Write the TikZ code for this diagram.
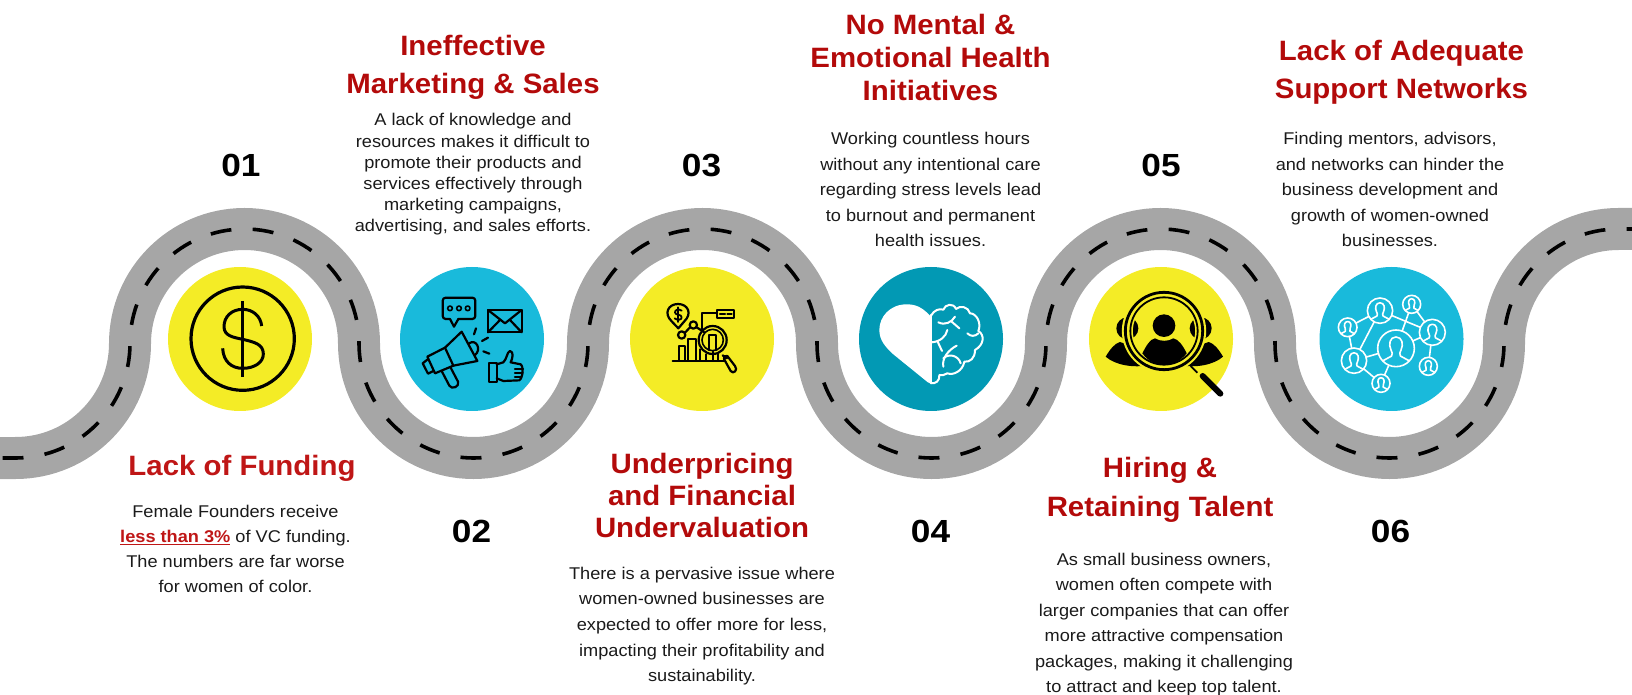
\documentclass[tikz,border=0pt]{standalone}
\usepackage{fontspec}
\setmainfont{Liberation Sans}
\newfontfamily\ttlfont[FakeStretch=1.05]{Liberation Sans}
\newfontfamily\copyfont[FakeStretch=1.07]{Liberation Sans}
\newfontfamily\numfont[FakeStretch=1.1]{Liberation Sans}
\usetikzlibrary{calc}
\definecolor{roadgrey}{HTML}{A6A6A6}
\definecolor{ttlred}{HTML}{B30A0A}
\definecolor{warmred}{HTML}{BF1616}
\definecolor{sunyellow}{HTML}{F4EC26}
\definecolor{skyblue}{HTML}{19BADB}
\definecolor{tealblue}{HTML}{0299B4}
\definecolor{bodyink}{HTML}{1A1A1A}
\tikzset{
  ttl/.style={text=ttlred,inner sep=0pt,anchor=base,text width=320pt,align=flush center,font=\ttlfont\bfseries\fontsize{28}{#1}\selectfont},
  bodytxt/.style={text=bodyink,inner sep=0pt,anchor=base,text width=320pt,align=flush center,font=\copyfont\fontsize{17}{#1}\selectfont},
  numtxt/.style={text=black,inner sep=0pt,anchor=base,font=\numfont\bfseries\fontsize{32}{32}\selectfont},
  disc/.style={circle,minimum size=144pt,inner sep=0pt,fill=#1},
  zoomed/.style={x=0.33333pt,y=-0.33333pt},
  ink/.style={draw=black,line width=2.2pt,line cap=round,line join=round},
  chalk/.style={draw=white,line width=1.6pt,line cap=round,line join=round},
}
\newcommand{\bustfig}[3]{%
  \begin{scope}[shift={(#1,#2)}]
    \path[chalk,fill=skyblue] (0,0) circle[radius=#3];
    \begin{scope}
      \clip (0,0) circle[radius=#3];
      \draw[chalk,scale=#3] (-0.85,0.75) -- (-0.24,0.42) .. controls (-0.18,0.3) and (-0.2,0.22) .. (-0.27,0.1)
        .. controls (-0.42,-0.2) and (-0.35,-0.62) .. (0,-0.62)
        .. controls (0.35,-0.62) and (0.42,-0.2) .. (0.27,0.1)
        .. controls (0.2,0.22) and (0.18,0.3) .. (0.24,0.42) -- (0.85,0.75);
    \end{scope}
  \end{scope}}
\begin{document}
\begin{tikzpicture}[x=1pt,y=1pt]
\useasboundingbox (0,0) rectangle (1632,694);
% road
\coordinate (roadstart) at (0,236);
\coordinate (roadend) at (1632,465);
\def\roadpath{(roadstart) -- (15.5,236) arc[start angle=270,end angle=360,radius=114.5pt]
  arc[start angle=180,end angle=0,radius=114.5pt]
  arc[start angle=180,end angle=360,radius=114.5pt]
  arc[start angle=180,end angle=0,radius=114.5pt]
  arc[start angle=180,end angle=360,radius=114.5pt]
  arc[start angle=180,end angle=0,radius=114.5pt]
  arc[start angle=180,end angle=360,radius=114.5pt]
  arc[start angle=180,end angle=90,radius=114.5pt] -- (roadend)}
\draw[roadgrey,line width=42pt] \roadpath;
\draw[black,line width=3.6pt,dash pattern=on 21pt off 21.32pt,dash phase=39.82pt] \roadpath;
% discs
\node[disc=sunyellow] (d1) at (240,355) {};
\node[disc=skyblue] (d2) at (472,355) {};
\node[disc=sunyellow] (d3) at (702,355) {};
\node[disc=tealblue] (d4) at (931,355) {};
\node[disc=sunyellow] (d5) at (1161,355) {};
\node[disc=skyblue] (d6) at (1391.5,355) {};
% icon 1: coin
\begin{scope}[shift={(150,444)},zoomed]
  \draw[ink,line width=3.2pt] (278,266) circle[radius=155];
  \draw[ink,line width=3pt,line cap=butt] (278,153) -- (278,382);
  \draw[ink,line width=3pt,line cap=butt] (335,228) .. controls (332,198) and (308,178) .. (278,178)
    .. controls (245,178) and (222,200) .. (222,230) .. controls (222,258) and (250,262) .. (278,268)
    .. controls (312,276) and (340,282) .. (340,312) .. controls (340,338) and (312,355) .. (278,355)
    .. controls (245,355) and (220,335) .. (218,295);
\end{scope}
% icon 2: marketing
\begin{scope}[shift={(400,419)},zoomed]
  \draw[ink,rounded corners=3pt] (150,132) -- (128,132) -- (128,68) -- (226,68) -- (226,132) -- (175,132);
  \draw[ink] (150,132) -- (162,155) -- (175,132);
  \foreach \dx in {150,177,203} \draw[ink,line width=1.6pt] (\dx,100) circle[radius=7];
  \draw[ink] (264,105) rectangle (365,172);
  \draw[ink] (264,105) -- (315,145) -- (365,105);
  \draw[ink] (264,172) -- (300,135) (365,172) -- (330,135);
  \draw[ink] (135,218) -- (185,170) -- (232,258) -- (160,272) -- cycle;
  \draw[ink] (135,218) -- (82,245) -- (105,295) -- (160,272);
  \draw[ink] (82,254) -- (68,265) -- (84,296) -- (100,288);
  \draw[ink] (125,288) -- (148,332) .. controls (155,345) and (180,335) .. (174,320) -- (152,278);
  \draw[ink] (207,205) .. controls (230,190) and (245,225) .. (225,240);
  \draw[ink] (228,160) -- (222,178) (264,188) -- (246,198) (268,236) -- (250,229);
  \draw[ink] (268,264) rectangle (290,320);
  \draw[ink] (290,268) -- (310,262) .. controls (322,250) and (320,232) .. (330,228)
     .. controls (342,230) and (338,250) .. (332,262) -- (362,268) .. controls (372,275) and (368,310) .. (358,316) -- (310,318) -- (290,310);
  \draw[ink] (345,281) -- (369,281) (345,293) -- (368,293) (345,305) -- (362,305);
\end{scope}
% icon 3: finance
\begin{scope}[shift={(650,404)},zoomed]
  \draw[ink] (65,94) .. controls (40,70) and (55,42) .. (84,42) .. controls (113,42) and (128,70) .. (103,94) -- (85,115) -- cycle;
  \draw[ink,line width=1.8pt] (95,62) .. controls (85,55) and (74,60) .. (75,68) .. controls (76,76) and (95,72) .. (95,82) .. controls (95,90) and (82,92) .. (74,85);
  \draw[ink,line width=1.8pt] (85,52) -- (85,96);
  \draw[ink] (68,212) -- (225,212);
  \draw[ink] (87,210) -- (87,168) -- (105,168) -- (105,210);
  \draw[ink] (115,210) -- (115,148) -- (137,148) -- (137,210);
  \draw[ink] (150,210) -- (150,178);
  \draw[ink] (168,210) -- (168,193) (190,210) -- (190,185) (205,210) -- (205,193);
  \draw[ink] (95,135) circle[radius=11] (130,105) circle[radius=11];
  \draw[ink] (105,128) -- (120,112) (140,112) -- (162,126);
  \draw[ink] (157,118) -- (157,70) -- (200,70);
  \draw[ink] (200,60) rectangle (253,85);
  \draw[ink] (210,72) -- (225,72) (232,72) -- (245,72);
  \draw[ink] (188,150) circle[radius=42];
  \draw[ink,line width=1.6pt] (188,150) circle[radius=32];
  \draw[ink] (178,180) -- (178,135) -- (198,135) -- (198,180);
  \draw[ink] (218,196) -- (230,205) (222,207) -- (242,243) .. controls (250,254) and (265,240) .. (255,228) -- (232,198) .. controls (226,195) and (220,200) .. (222,207);
\end{scope}
% icon 4: heart and brain
\begin{scope}[shift={(860,429)},zoomed]
  \fill[white] (210,152) .. controls (185,125) and (165,118) .. (140,118) .. controls (90,118) and (58,155) .. (58,195)
    .. controls (58,225) and (75,245) .. (100,268) -- (195,345) .. controls (200,350) and (205,353) .. (210,355) -- cycle;
  \draw[chalk,line width=2pt] (213,150) -- (213,355);
  \draw[chalk,line width=2pt] (213,152) .. controls (222,135) and (238,130) .. (250,134)
     .. controls (255,118) and (280,112) .. (288,132)
     .. controls (300,120) and (325,125) .. (330,145)
     .. controls (350,145) and (365,175) .. (355,198)
     .. controls (375,210) and (372,240) .. (345,255)
     .. controls (345,280) and (330,292) .. (313,290)
     .. controls (308,318) and (280,332) .. (262,325)
     .. controls (255,330) and (245,332) .. (238,330)
     .. controls (240,348) and (225,358) .. (213,354);
  \draw[chalk,line width=2pt] (235,172) .. controls (255,182) and (275,172) .. (285,155);
  \draw[chalk,line width=2pt] (275,170) -- (298,190);
  \draw[chalk,line width=2pt] (262,195) .. controls (258,215) and (240,230) .. (215,232);
  \draw[chalk,line width=2pt] (232,228) -- (246,258);
  \draw[chalk,line width=2pt] (322,205) .. controls (332,215) and (345,215) .. (355,205);
  \draw[chalk,line width=2pt] (290,242) .. controls (265,255) and (245,280) .. (250,305);
  \draw[chalk,line width=2pt] (250,280) .. controls (265,265) and (295,270) .. (302,295);
\end{scope}
% icon 5: talent search
\begin{scope}[shift={(1040,444)},zoomed]
  \fill[black] (262,235) circle[radius=33] (482,235) circle[radius=33];
  \fill[black] (197,320) .. controls (212,295) and (225,280) .. (240,276) .. controls (265,285) and (300,295) .. (330,345) .. controls (280,355) and (225,345) .. (197,320) -- cycle;
  \fill[black] (549,320) .. controls (534,295) and (521,280) .. (506,276) .. controls (481,285) and (446,295) .. (416,345) .. controls (466,355) and (521,345) .. (549,320) -- cycle;
  \draw[sunyellow,line width=11pt] (372,243) circle[radius=110];
  \draw[black,line width=2.8pt] (372,243) circle[radius=116];
  \draw[black,line width=1.8pt] (372,243) circle[radius=101];
  \fill[black] (372,227) circle[radius=34];
  \fill[black] (307,310) .. controls (320,285) and (330,268) .. (345,265) .. controls (360,275) and (385,275) .. (400,265)
     .. controls (415,268) and (428,285) .. (440,310) .. controls (420,335) and (395,345) .. (372,345) .. controls (350,345) and (325,335) .. (307,310) -- cycle;
  \draw[black,line width=1.8pt] (452,348) -- (472,368);
  \draw[black,line width=6pt,line cap=round] (488,378) -- (541,431);
\end{scope}
% icon 6: network
\begin{scope}[shift={(1320,429)},zoomed]
  \draw[chalk] (83,187) -- (102,287) (83,187) -- (180,137) (102,287) -- (180,137) (102,287) -- (228,250)
    (102,287) -- (183,355) (183,355) -- (228,250) (228,250) -- (275,118) (180,137) -- (337,202)
    (228,250) -- (337,202) (275,118) -- (337,202) (337,202) -- (325,304);
  \bustfig{228}{250}{55}
  \bustfig{180}{137}{38}
  \bustfig{102}{287}{38}
  \bustfig{337}{202}{39}
  \bustfig{275}{118}{27}
  \bustfig{83}{187}{28}
  \bustfig{183}{355}{27}
  \bustfig{325}{304}{27}
\end{scope}
% numbers
\node[numtxt] (n1) at (241,517) {01};
\node[numtxt] (n2) at (471.5,152) {02};
\node[numtxt] (n3) at (701.5,517) {03};
\node[numtxt] (n4) at (930.5,152) {04};
\node[numtxt] (n5) at (1161,517) {05};
\node[numtxt] (n6) at (1390.5,152) {06};
% titles
\node[ttl=38,text=warmred] (t1) at (242,219) {Lack of Funding};
\node[ttl=38] (t2) at (473,638) {Ineffective\\Marketing \& Sales};
\node[ttl=32] (t3) at (702,221) {Underpricing\\and Financial\\Undervaluation};
\node[ttl=33] (t4) at (930.5,659) {No Mental \&\\Emotional Health\\Initiatives};
\node[ttl=39] (t5) at (1160,217) {Hiring \&\\Retaining Talent};
\node[ttl=38] (t6) at (1401.5,633) {Lack of Adequate\\Support Networks};
% bodies
\node[bodytxt=25.3] (b1) at (235.5,177) {Female Founders receive\\\textcolor{warmred}{\underline{\textbf{less than 3\%}}} of VC funding.\\The numbers are far worse\\for women of color.};
\node[bodytxt=21.1] (b2) at (473,568) {A lack of knowledge and\\resources makes it difficult to\\promote their products and\\services effectively through\\marketing campaigns,\\advertising, and sales efforts.};
\node[bodytxt=25.7] (b3) at (702,115) {There is a pervasive issue where\\women-owned businesses are\\expected to offer more for less,\\impacting their profitability and\\sustainability.};
\node[bodytxt=25.5] (b4) at (930.5,549) {Working countless hours\\without any intentional care\\regarding stress levels lead\\to burnout and permanent\\health issues.};
\node[bodytxt=25.5] (b5) at (1164,129) {As small business owners,\\women often compete with\\larger companies that can offer\\more attractive compensation\\packages, making it challenging\\to attract and keep top talent.};
\node[bodytxt=25.5] (b6) at (1390,549) {Finding mentors, advisors,\\and networks can hinder the\\business development and\\growth of women-owned\\businesses.};
\end{tikzpicture}
\end{document}
